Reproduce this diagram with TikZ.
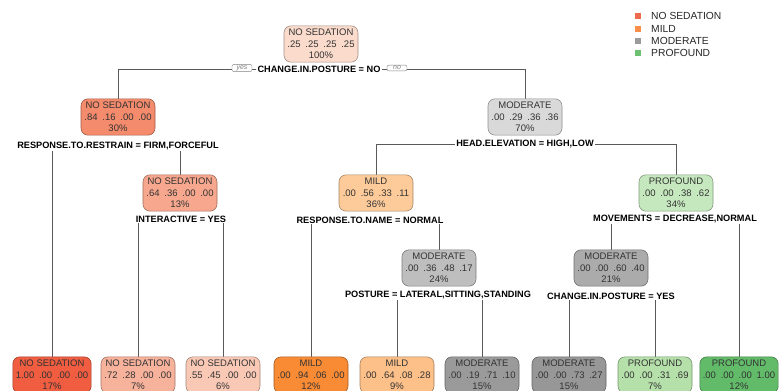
\documentclass[tikz,border=0pt]{standalone}
\usepackage{fontspec}
\setmainfont{Liberation Sans}
\usetikzlibrary{backgrounds}
\definecolor{c0}{HTML}{FADBCC}
\definecolor{c1}{HTML}{F48B6C}
\definecolor{c3}{HTML}{F6A78E}
\definecolor{cL1}{HTML}{F05D40}
\definecolor{cL2}{HTML}{F7B29C}
\definecolor{cL3}{HTML}{FAC9B6}
\definecolor{c4}{HTML}{FDCB9A}
\definecolor{cL4}{HTML}{F98B35}
\definecolor{cL5}{HTML}{FDC089}
\definecolor{c2}{HTML}{D9D9D9}
\definecolor{c6}{HTML}{BEBEBE}
\definecolor{c7}{HTML}{ABABAB}
\definecolor{cL6}{HTML}{9A9A9A}
\definecolor{cL7}{HTML}{979797}
\definecolor{c5}{HTML}{C6E8BE}
\definecolor{cL8}{HTML}{B5E0AA}
\definecolor{cL9}{HTML}{62BB69}
\definecolor{gNS}{HTML}{EE6A4D}
\definecolor{gMI}{HTML}{F98E4A}
\definecolor{gMO}{HTML}{9B9B9B}
\definecolor{gPR}{HTML}{6CC070}
\newcommand\probrow[4]{#1\enspace#2\enspace#3\enspace#4}
\tikzset{
  tn/.style={rounded corners=7pt, draw=#1!65!black, fill=#1, line width=0.6pt,
    align=center, font=\fontsize{9.5}{11.3}\selectfont, text=black!80,
    inner xsep=3pt, inner ysep=3.5pt, minimum width=74pt},
  sl/.style={font=\bfseries\fontsize{9.2}{10}\selectfont, fill=white,
    inner xsep=1.5pt, inner ysep=1pt},
  yn/.style={draw=gray, rounded corners=2pt, fill=white,
    font=\itshape\fontsize{7}{7}\selectfont, text=gray,
    minimum width=20pt, inner xsep=2pt, inner ysep=1pt, line width=0.4pt},
  edge/.style={draw=black!65, line width=0.6pt},
  legsq/.style={minimum size=6pt, inner sep=0pt, draw=none},
  legtx/.style={anchor=west, font=\fontsize{10.3}{12}\selectfont, text=black!85, inner sep=0pt}
}
\begin{document}
\begin{tikzpicture}[x=1pt,y=-1pt]
\useasboundingbox (0,0) rectangle (780,391);
\clip (0,0) rectangle (780,391);
% internal nodes
\node[tn=c0] (n0) at (321,44) {NO SEDATION\\\probrow{.25}{.25}{.25}{.25}\\100\%};
\node[sl] (s0) at (319,69) {CHANGE.IN.POSTURE = NO};
\node[yn] (yes) at (242,68) {yes};
\node[yn] (no) at (397,68) {no};
\node[tn=c1] (n1) at (118,117) {NO SEDATION\\\probrow{.84}{.16}{.00}{.00}\\30\%};
\node[sl] (s1) at (118,146) {RESPONSE.TO.RESTRAIN = FIRM,FORCEFUL};
\node[tn=c2] (n2) at (525,117) {MODERATE\\\probrow{.00}{.29}{.36}{.36}\\70\%};
\node[sl] (s2) at (525,144) {HEAD.ELEVATION = HIGH,LOW};
\node[tn=c3] (n3) at (180,193) {NO SEDATION\\\probrow{.64}{.36}{.00}{.00}\\13\%};
\node[sl] (s3) at (181,219) {INTERACTIVE = YES};
\node[tn=c4] (n4) at (376,193) {MILD\\\probrow{.00}{.56}{.33}{.11}\\36\%};
\node[sl] (s4) at (370,220) {RESPONSE.TO.NAME = NORMAL};
\node[tn=c5] (n5) at (676,193) {PROFOUND\\\probrow{.00}{.00}{.38}{.62}\\34\%};
\node[sl] (s5) at (675,219) {MOVEMENTS = DECREASE,NORMAL};
\node[tn=c6] (n6) at (439,268) {MODERATE\\\probrow{.00}{.36}{.48}{.17}\\24\%};
\node[sl] (s6) at (438,295) {POSTURE = LATERAL,SITTING,STANDING};
\node[tn=c7] (n7) at (611,268) {MODERATE\\\probrow{.00}{.00}{.60}{.40}\\21\%};
\node[sl] (s7) at (611,296) {CHANGE.IN.POSTURE = YES};
% leaves
\node[tn=cL1] (l1) at (52,375) {NO SEDATION\\\probrow{1.00}{.00}{.00}{.00}\\17\%};
\node[tn=cL2] (l2) at (138,375) {NO SEDATION\\\probrow{.72}{.28}{.00}{.00}\\7\%};
\node[tn=cL3] (l3) at (223,375) {NO SEDATION\\\probrow{.55}{.45}{.00}{.00}\\6\%};
\node[tn=cL4] (l4) at (311,375) {MILD\\\probrow{.00}{.94}{.06}{.00}\\12\%};
\node[tn=cL5] (l5) at (397,375) {MILD\\\probrow{.00}{.64}{.08}{.28}\\9\%};
\node[tn=cL6] (l6) at (482,375) {MODERATE\\\probrow{.00}{.19}{.71}{.10}\\15\%};
\node[tn=cL7] (l7) at (569,375) {MODERATE\\\probrow{.00}{.00}{.73}{.27}\\15\%};
\node[tn=cL8] (l8) at (655,375) {PROFOUND\\\probrow{.00}{.00}{.31}{.69}\\7\%};
\node[tn=cL9] (l9) at (739,375) {PROFOUND\\\probrow{.00}{.00}{.00}{1.00}\\12\%};
% connectors
\begin{scope}[on background layer]
\draw[edge] (n1.north) |- (s0.center);
\draw[edge] (n2.north) |- (s0.center);
\draw[edge] (l1.north) |- (s1.center);
\draw[edge] (n3.north) |- (s1.center);
\draw[edge] (n4.north) |- (s2.center);
\draw[edge] (n5.north) |- (s2.center);
\draw[edge] (l2.north) |- (s3.center);
\draw[edge] (l3.north) |- (s3.center);
\draw[edge] (l4.north) |- (s4.center);
\draw[edge] (n6.north) |- (s4.center);
\draw[edge] (n7.north) |- (s5.center);
\draw[edge] (l9.north) |- (s5.center);
\draw[edge] (l5.north) |- (s6.center);
\draw[edge] (l6.north) |- (s6.center);
\draw[edge] (l7.north) |- (s7.center);
\draw[edge] (l8.north) |- (s7.center);
\end{scope}
% legend
\node[legsq, fill=gNS] (q1) at (638,16) {};
\node[legtx] (t1) at (651,16) {NO SEDATION};
\node[legsq, fill=gMI] (q2) at (638,29) {};
\node[legtx] (t2) at (651,29) {MILD};
\node[legsq, fill=gMO] (q3) at (638,41) {};
\node[legtx] (t3) at (651,41) {MODERATE};
\node[legsq, fill=gPR] (q4) at (638,53) {};
\node[legtx] (t4) at (651,53) {PROFOUND};
\end{tikzpicture}
\end{document}
